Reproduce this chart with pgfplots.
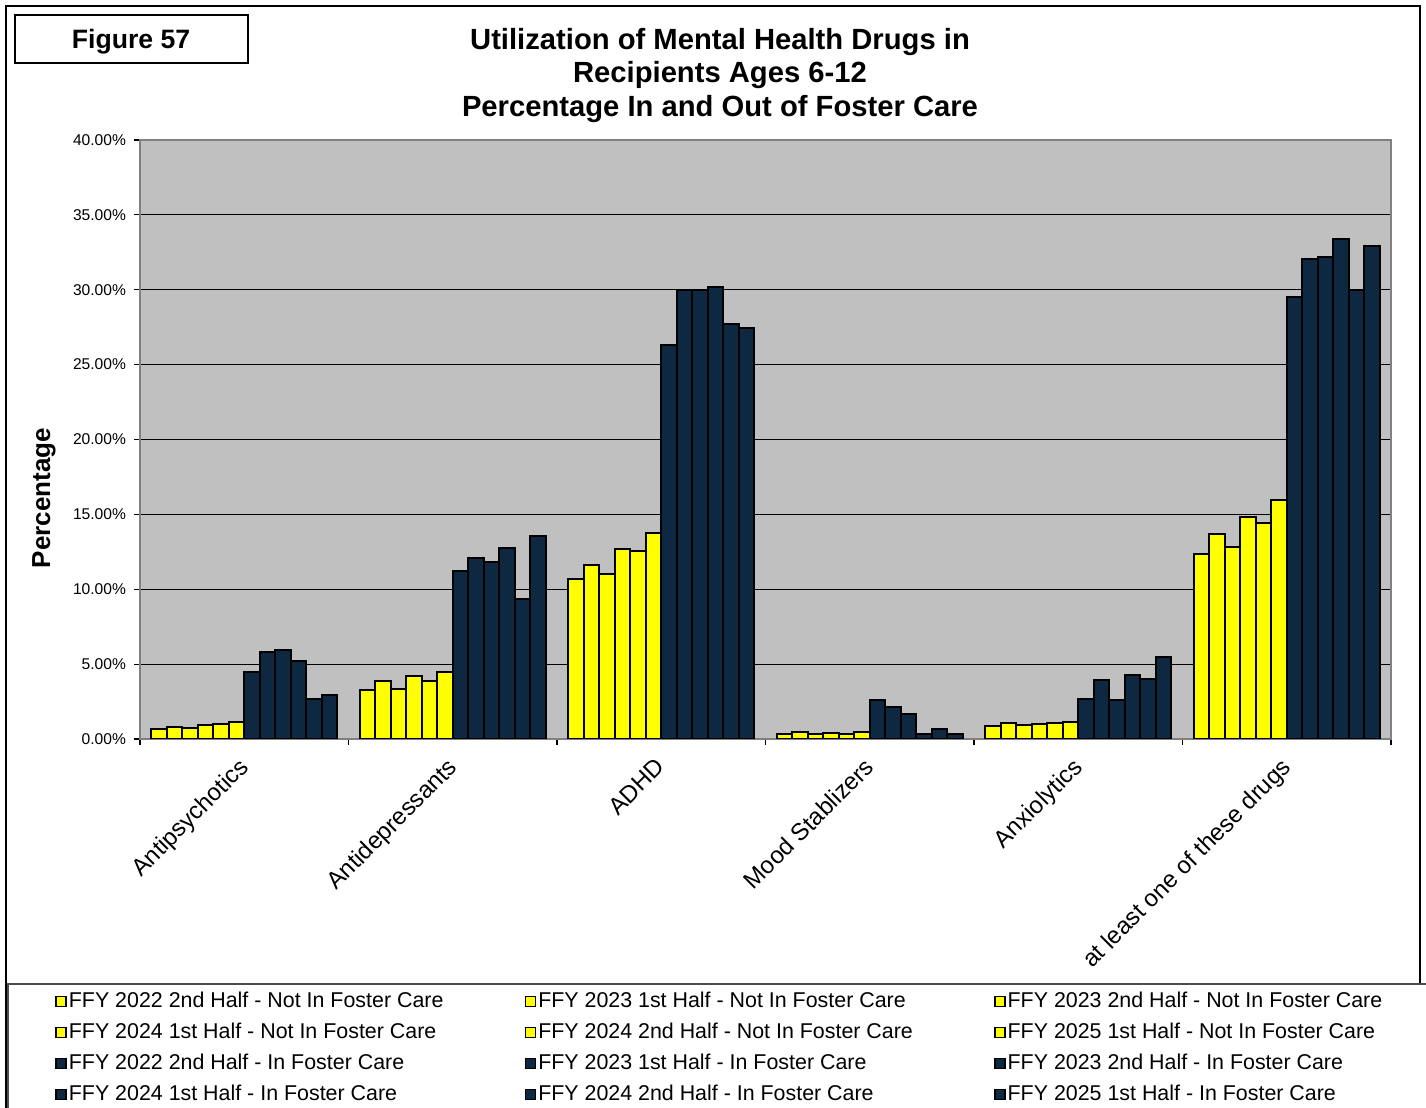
\documentclass[border=0pt]{standalone}
\usepackage{fontspec}
\setmainfont{Liberation Sans}
\usepackage{pgfplots}
\usepackage{pgfplotstable}
\pgfplotsset{compat=1.18}

\definecolor{barYellow}{RGB}{255,255,0}
\definecolor{barNavy}{RGB}{15,40,65}
\definecolor{plotGrey}{RGB}{192,192,192}
\definecolor{frameGrey}{RGB}{128,128,128}

% Share of recipients (percent) per drug class; columns s1-s6 not in foster care, s7-s12 in foster care
\pgfplotstableread{
x  s1    s2    s3    s4    s5    s6    s7    s8    s9    s10   s11   s12
0  0.69  0.80  0.71  0.96  0.98  1.13  4.47  5.78  5.93  5.24  2.69  2.93
1  3.27  3.84  3.36  4.24  3.84  4.47  11.24 12.09 11.84 12.78 9.33  13.56
2  10.67 11.60 11.00 12.72 12.58 13.74 26.33 30.00 29.96 30.18 27.68 27.46
3  0.33  0.47  0.31  0.42  0.33  0.49  2.63  2.12  1.65  0.31  0.67  0.33
4  0.85  1.07  0.94  0.98  1.05  1.16  2.66  3.93  2.63  4.26  4.00  5.49
5  12.37 13.71 12.81 14.82 14.42 15.94 29.53 32.05 32.19 33.39 29.96 32.95
}\drugdata

\newcommand{\lgtext}[1]{\makebox[227pt][l]{\rule[-2pt]{0pt}{10pt}#1}}

\begin{document}
\begin{tikzpicture}
\useasboundingbox (0,0) rectangle (713pt,554pt);

% frames, figure tag and title (pixel-style coordinates, origin top left)
\begin{scope}[x=0.5pt, y=-0.5pt, yshift=554pt]
  \draw[black, line width=1pt] (6,1120) -- (6,6) -- (1420,6) -- (1420,984);
  \draw[black!70, line width=0.6pt] (8,1120) -- (8,984) -- (1430,984);
  \draw[black, line width=0.8pt] (15,15) rectangle (248,63);
  \node[font=\fontsize{13.3}{15}\selectfont\bfseries, anchor=base] at (131,49) {Figure 57};
  \node[font=\fontsize{14.6}{17}\selectfont\bfseries, anchor=base] at (720,49.5) {Utilization of Mental Health Drugs in};
  \node[font=\fontsize{14.6}{17}\selectfont\bfseries, anchor=base] at (720,82.7) {Recipients Ages 6-12};
  \node[font=\fontsize{14.6}{17}\selectfont\bfseries, anchor=base] at (720,116.5) {Percentage In and Out of Foster Care};
\end{scope}

\begin{axis}[
  at={(70pt,184.5pt)}, anchor=south west,
  scale only axis,
  width=625.5pt, height=299.5pt,
  xmin=-0.5, xmax=5.5,
  ymin=0, ymax=40,
  ybar=0pt,
  bar width=7.75pt,
  axis background/.style={fill=plotGrey},
  axis line style={draw=frameGrey, line width=0.8pt},
  ymajorgrids,
  grid style={black, line width=0.5pt},
  ytick={0,5,...,40},
  yticklabel={\pgfmathprintnumber[fixed,fixed zerofill,precision=2]{\tick}\%},
  /pgf/number format/assume math mode=true,
  yticklabel style={font=\fontsize{7.8}{9}\selectfont, xshift=-0.5pt},
  tick pos=left,
  tick align=outside,
  major tick length=3pt,
  y tick style={black, line width=0.6pt},
  xtick={0,...,5},
  major x tick style={draw=none},
  minor xtick={-0.5,0.5,1.5,2.5,3.5,4.5,5.5},
  minor tick length=3pt,
  minor x tick style={black, line width=0.6pt},
  xticklabels={Antipsychotics,Antidepressants,ADHD,Mood Stablizers,Anxiolytics,at least one of these drugs},
  xticklabel style={font=\fontsize{12}{14}\selectfont, rotate=45, anchor=north east, inner sep=0pt, yshift=-1.5pt, xshift=-6.3pt},
  ylabel={Percentage},
  ylabel style={font=\fontsize{13}{15}\selectfont\bfseries, at={(axis description cs:-0.0767,0.402)}, anchor=center},
  legend columns=3,
  legend cell align=left,
  legend style={draw=none, fill=none, inner sep=0pt, column sep=0pt, row sep=4pt,
    nodes={inner sep=1pt},
    font=\fontsize{10.7}{12}\selectfont,
    at={(axis description cs:-0.0679,-0.418)}, anchor=north west},
  legend image code/.code={\draw[#1, draw=black, line width=0.7pt] (0pt,-2.5pt) rectangle (5pt,2.5pt);},
  every axis plot/.append style={draw=black, line width=1pt},
]
\addplot[fill=barYellow] table[x=x, y=s1] {\drugdata};
\addplot[fill=barYellow] table[x=x, y=s2] {\drugdata};
\addplot[fill=barYellow] table[x=x, y=s3] {\drugdata};
\addplot[fill=barYellow] table[x=x, y=s4] {\drugdata};
\addplot[fill=barYellow] table[x=x, y=s5] {\drugdata};
\addplot[fill=barYellow] table[x=x, y=s6] {\drugdata};
\addplot[fill=barNavy] table[x=x, y=s7] {\drugdata};
\addplot[fill=barNavy] table[x=x, y=s8] {\drugdata};
\addplot[fill=barNavy] table[x=x, y=s9] {\drugdata};
\addplot[fill=barNavy] table[x=x, y=s10] {\drugdata};
\addplot[fill=barNavy] table[x=x, y=s11] {\drugdata};
\addplot[fill=barNavy] table[x=x, y=s12] {\drugdata};
\addlegendentry{\lgtext{FFY 2022 2nd Half - Not In Foster Care}}
\addlegendentry{\lgtext{FFY 2023 1st Half - Not In Foster Care}}
\addlegendentry{\lgtext{FFY 2023 2nd Half - Not In Foster Care}}
\addlegendentry{\lgtext{FFY 2024 1st Half - Not In Foster Care}}
\addlegendentry{\lgtext{FFY 2024 2nd Half - Not In Foster Care}}
\addlegendentry{\lgtext{FFY 2025 1st Half - Not In Foster Care}}
\addlegendentry{\lgtext{FFY 2022 2nd Half - In Foster Care}}
\addlegendentry{\lgtext{FFY 2023 1st Half - In Foster Care}}
\addlegendentry{\lgtext{FFY 2023 2nd Half - In Foster Care}}
\addlegendentry{\lgtext{FFY 2024 1st Half - In Foster Care}}
\addlegendentry{\lgtext{FFY 2024 2nd Half - In Foster Care}}
\addlegendentry{\lgtext{FFY 2025 1st Half - In Foster Care}}
\end{axis}
\end{tikzpicture}
\end{document}
